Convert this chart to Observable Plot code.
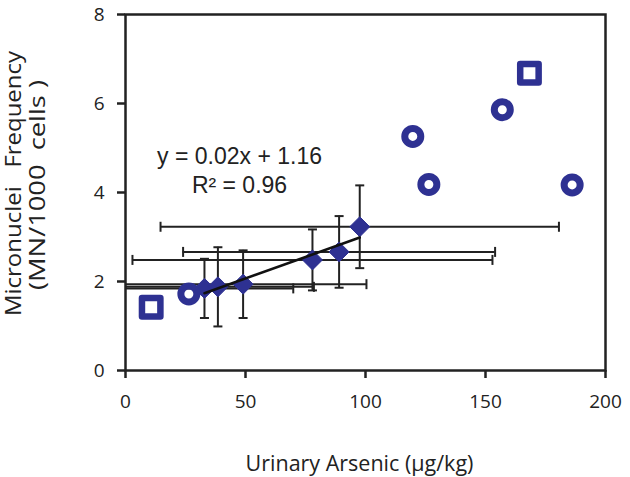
<!DOCTYPE html>
<html>
<head>
<meta charset="utf-8">
<script src="https://cdn.jsdelivr.net/npm/d3@7"></script>
<script src="https://cdn.jsdelivr.net/npm/@observablehq/plot@0.6"></script>
<style>
  html, body { margin: 0; padding: 0; background: #fff; }
</style>
</head>
<body>
<div id="chart"></div>
<script>
// ---- data ----
const xTicks = [0, 50, 100, 150, 200];
const yTicks = [0, 2, 4, 6, 8];

// group means (diamonds) with SD in x and y
const meanX   = [32.9, 38.5, 49.0, 77.9, 89.0, 97.6];
const meanY   = [1.845, 1.88, 1.94, 2.485, 2.665, 3.23];
const sdX     = [37, 40, 51.4, 75, 65, 83];
const sdY     = [0.665, 0.89, 0.76, 0.685, 0.805, 0.93];

// open circles
const circleX = [26.4, 119.7, 126.4, 157.0, 186.1];
const circleY = [1.72, 5.26, 4.18, 5.86, 4.17];

// open squares
const squareX = [10.7, 168.3];
const squareY = [1.42, 6.68];

const eqLines = ["y = 0.02x + 1.16", "R² = 0.96"];
const eqX = [47.5, 47.5];
const eqY = [4.65, 4.0];

const xLabel = "Urinary Arsenic (µg/kg)";
const yLabel = ["Micronuclei   Frequency", "(MN/1000  cells )"];

// ---- tables ----
const means = meanX.map((x, i) => ({x, y: meanY[i], sdx: sdX[i], sdy: sdY[i]}));
const circles = circleX.map((x, i) => ({x, y: circleY[i]}));
const squares = squareX.map((x, i) => ({x, y: squareY[i]}));
const eq = eqLines.map((t, i) => ({t, x: eqX[i], y: eqY[i]}));

const blue = "#2E3192";
const barColor = "#222";

const hcap = {draw(ctx, size) { const w = Math.sqrt(size / Math.PI); ctx.moveTo(-w, 0); ctx.lineTo(w, 0); }};
const vcap = {draw(ctx, size) { const w = Math.sqrt(size / Math.PI); ctx.moveTo(0, -w); ctx.lineTo(0, w); }};

const font = "'Open Sans', 'Noto Sans', sans-serif";

const chart = Plot.plot({
  width: 630,
  height: 477,
  marginLeft: 125,
  marginRight: 25,
  marginTop: 14,
  marginBottom: 107,
  style: {fontFamily: font, fontSize: "18px", background: "#fff", color: "#222"},
  x: {domain: [0, 200]},
  y: {domain: [0, 8]},
  marks: [
    // horizontal SD bars
    Plot.ruleY(means, {y: "y", x1: d => d.x - d.sdx, x2: d => d.x + d.sdx, stroke: barColor, strokeWidth: 2, clip: true}),
    Plot.dot(means, {x: d => d.x - d.sdx, y: "y", symbol: vcap, r: 5, stroke: barColor, strokeWidth: 2, fill: "none", clip: true}),
    Plot.dot(means, {x: d => d.x + d.sdx, y: "y", symbol: vcap, r: 5, stroke: barColor, strokeWidth: 2, fill: "none", clip: true}),
    // vertical SD bars
    Plot.ruleX(means, {x: "x", y1: d => d.y - d.sdy, y2: d => d.y + d.sdy, stroke: barColor, strokeWidth: 2}),
    Plot.dot(means, {x: "x", y: d => d.y - d.sdy, symbol: hcap, r: 4.5, stroke: barColor, strokeWidth: 2, fill: "none"}),
    Plot.dot(means, {x: "x", y: d => d.y + d.sdy, symbol: hcap, r: 4.5, stroke: barColor, strokeWidth: 2, fill: "none"}),
    // diamonds
    Plot.dot(means, {x: "x", y: "y", symbol: "diamond2", r: 9, fill: blue, stroke: blue, strokeWidth: 1}),
    // regression
    Plot.linearRegressionY(means, {x: "x", y: "y", ci: 0, stroke: "#111", strokeWidth: 2.6}),
    // circles
    Plot.dot(circles, {x: "x", y: "y", r: 8, stroke: blue, strokeWidth: 7, fill: "none"}),
    // squares
    Plot.dot(squares, {x: "x", y: "y", symbol: "square", r: 10.4, stroke: blue, strokeWidth: 6.5, strokeLinejoin: "round", fill: "none"}),
    // frame and axes
    Plot.frame({stroke: "#222", strokeWidth: 2.5}),
    Plot.axisX({ticks: xTicks, tickSize: 8, tickPadding: 16, strokeWidth: 2.5, fontSize: 19, label: null, stroke: "#222"}),
    Plot.axisY({ticks: yTicks, tickSize: 8, tickPadding: 13, strokeWidth: 2.5, fontSize: 19, label: null, stroke: "#222"}),
    // equation
    Plot.text(eq, {x: "x", y: "y", text: "t", lineAnchor: "bottom", fontFamily: "'Liberation Sans', Arial, sans-serif", fontSize: 23, fill: "#222"}),
    // x axis title
    Plot.text([xLabel], {frameAnchor: "bottom", text: d => d, dx: -6, dy: 100, lineAnchor: "bottom", fontSize: 21.5, fill: "#222"})
  ]
});
document.getElementById("chart").appendChild(chart);

// y axis title (two rotated lines)
const svg = d3.select(chart);
const yTitle = [
  {t: yLabel[0], x: 21, y: 183.5, len: 265},
  {t: yLabel[1], x: 44.5, y: 185, len: 210}
];
svg.append("g")
  .attr("fill", "#222")
  .attr("font-size", 21)
  .attr("text-anchor", "middle")
  .selectAll("text")
  .data(yTitle)
  .join("text")
  .attr("transform", d => `translate(${d.x},${d.y}) rotate(-90)`)
  .attr("textLength", d => d.len)
  .attr("lengthAdjust", "spacingAndGlyphs")
  .attr("xml:space", "preserve")
  .style("white-space", "pre")
  .text(d => d.t);
</script>
</body>
</html>
